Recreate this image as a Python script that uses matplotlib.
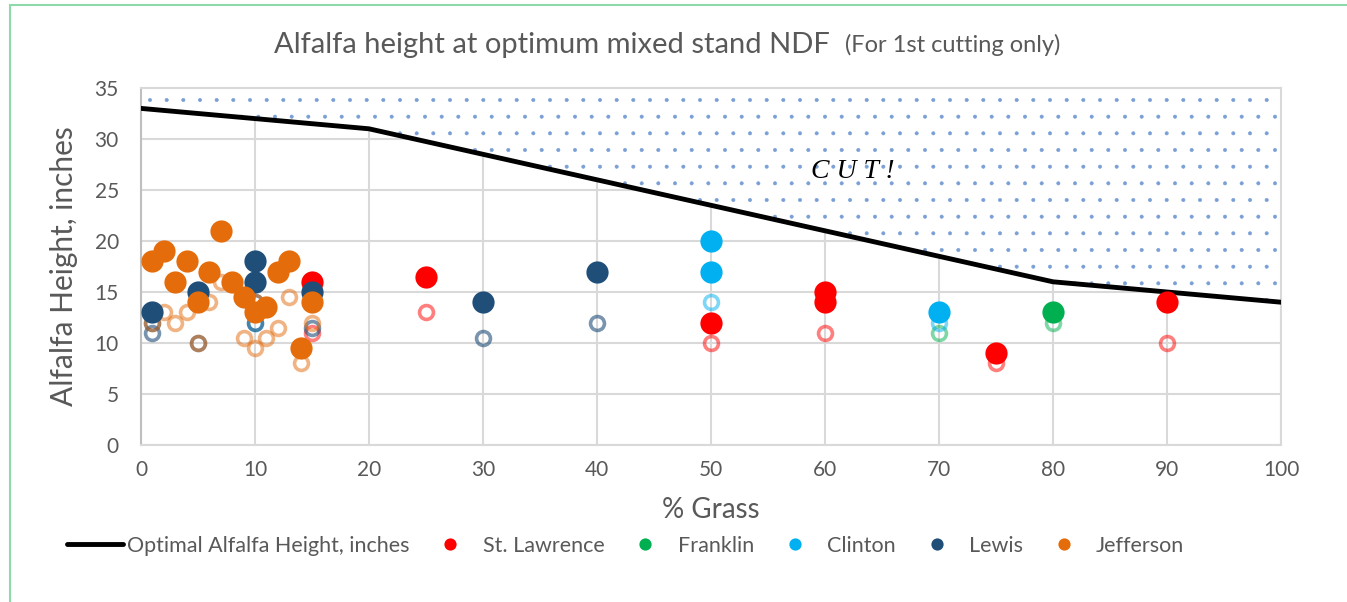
import matplotlib.pyplot as plt
from matplotlib.patches import Rectangle

# optimal height line
grass_pct = [0, 10, 20, 30, 40, 50, 60, 70, 80, 90, 100]
optimal_ht = [33, 32, 31, 28.5, 26, 23.5, 21, 18.5, 16, 15, 14]

# filled markers (legend series)
stl_x = [15, 25, 50, 60, 60, 75, 90]
stl_y = [16, 16.5, 12, 15, 14, 9, 14]
frank_x = [80]
frank_y = [13]
clint_x = [50, 50, 70]
clint_y = [20, 17, 13]
lewis_x = [1, 5, 10, 10, 15, 30, 40]
lewis_y = [13, 15, 18, 16, 15, 14, 17]
jeff_x = [1, 2, 3, 4, 5, 6, 7, 8, 9, 10, 11, 12, 13, 15, 14]
jeff_y = [18, 19, 16, 18, 14, 17, 21, 16, 14.5, 13, 13.5, 17, 18, 14, 9.5]

# open rings (no legend entry)
stl_rx = [15, 25, 50, 60, 75, 90]
stl_ry = [11, 13, 10, 11, 8, 10]
frank_rx = [70, 80]
frank_ry = [11, 12]
clint_rx = [50, 70, 10]
clint_ry = [14, 12, 12]
lewis_rx = [1, 1, 5, 10, 10, 15, 30, 40]
lewis_ry = [11, 12, 10, 14, 12, 11.5, 10.5, 12]
jeff_rx = [1, 2, 3, 4, 5, 6, 7, 9, 10, 10, 11, 12, 13, 14, 15]
jeff_ry = [12, 13, 12, 13, 10, 14, 16, 10.5, 9.5, 14, 10.5, 11.5, 14.5, 8, 12]

RED = '#FF0000'
GREEN = '#00B050'
CYAN = '#00B0F0'
NAVY = '#1F4E79'
ORANGE = '#E46C0A'
GRAY = '#595959'

plt.rcParams['font.family'] = ['Lato', 'DejaVu Sans']
plt.rcParams['hatch.linewidth'] = 0.4

fig = plt.figure(figsize=(13.47, 6.02), dpi=100)
ax = fig.add_axes([141 / 1347, 157 / 602, 1140 / 1347, 357 / 602])

# outer chart border
fig.patches.append(Rectangle((10 / 1347, -0.1), 1.2, 1.1 - 5 / 602,
                             transform=fig.transFigure, fill=False,
                             edgecolor='#8ED9A9', linewidth=1.5))

ax.fill_between(grass_pct, optimal_ht, 35, facecolor='white', edgecolor='#7A9FD6',
                hatch='.', linewidth=0, zorder=1)

ax.plot(grass_pct, optimal_ht, color='black', linewidth=3.5, zorder=3,
        label='Optimal Alfalfa Height, inches', solid_capstyle='round')

ring = dict(linestyle='none', marker='o', markersize=10, markeredgewidth=2.6,
            markerfacecolor='none', zorder=4)
ax.plot(stl_rx, stl_ry, markeredgecolor=(1, 0, 0, 0.5), **ring)
ax.plot(frank_rx, frank_ry, markeredgecolor=(0, 0.69, 0.31, 0.5), **ring)
ax.plot(clint_rx, clint_ry, markeredgecolor=(0, 0.69, 0.94, 0.5), **ring)
ax.plot(lewis_rx, lewis_ry, markeredgecolor=(0.12, 0.3, 0.47, 0.6), **ring)
ax.plot(jeff_rx, jeff_ry, markeredgecolor=(0.89, 0.42, 0.04, 0.5), **ring)

dot = dict(linestyle='none', marker='o', markersize=16, markeredgewidth=0, zorder=5)
ax.plot(stl_x, stl_y, color=RED, label='St. Lawrence', **dot)
ax.plot(frank_x, frank_y, color=GREEN, label='Franklin', **dot)
ax.plot(clint_x, clint_y, color=CYAN, label='Clinton', **dot)
ax.plot(lewis_x, lewis_y, color=NAVY, label='Lewis', **dot)
ax.plot(jeff_x, jeff_y, color=ORANGE, label='Jefferson', **dot)

ax.text(62.4, 26.8, 'C U T !', fontsize=20, style='italic', family='Liberation Serif',
        ha='center', va='center', zorder=6)

ax.set_xlim(0, 100)
ax.set_ylim(0, 35)
ax.set_xticks(range(0, 101, 10))
ax.set_yticks(range(0, 36, 5))
ax.grid(True, color='#D9D9D9', linewidth=1.5, zorder=0)
ax.set_axisbelow(True)
for s in ax.spines.values():
    s.set_color('#D9D9D9')
    s.set_linewidth(1.5)
ax.spines['left'].set_color('#BFBFBF')
ax.tick_params(length=0, labelsize=15, labelcolor=GRAY)
ax.tick_params(axis='x', pad=11)
ax.tick_params(axis='y', pad=16)

ax.set_xlabel('% Grass', fontsize=20, color=GRAY, labelpad=12)
ax.set_ylabel('Alfalfa Height, inches', fontsize=21.5, color=GRAY, labelpad=12)

fig.text(830 / 1347, 1 - 45 / 602, 'Alfalfa height at optimum mixed stand NDF',
         fontsize=21, color=GRAY, ha='right', va='center')
fig.text(845 / 1347, 1 - 45 / 602, '(For 1st cutting only)',
         fontsize=17, color=GRAY, ha='left', va='center')

fig.legend(loc='center', bbox_to_anchor=(0.4644, 1 - 546 / 602), ncol=6, frameon=False,
           fontsize=15.5, labelcolor=GRAY, handlelength=2.6, handletextpad=0.2,
           columnspacing=0.6, markerscale=0.55)

fig.savefig('out.png', dpi=100)
